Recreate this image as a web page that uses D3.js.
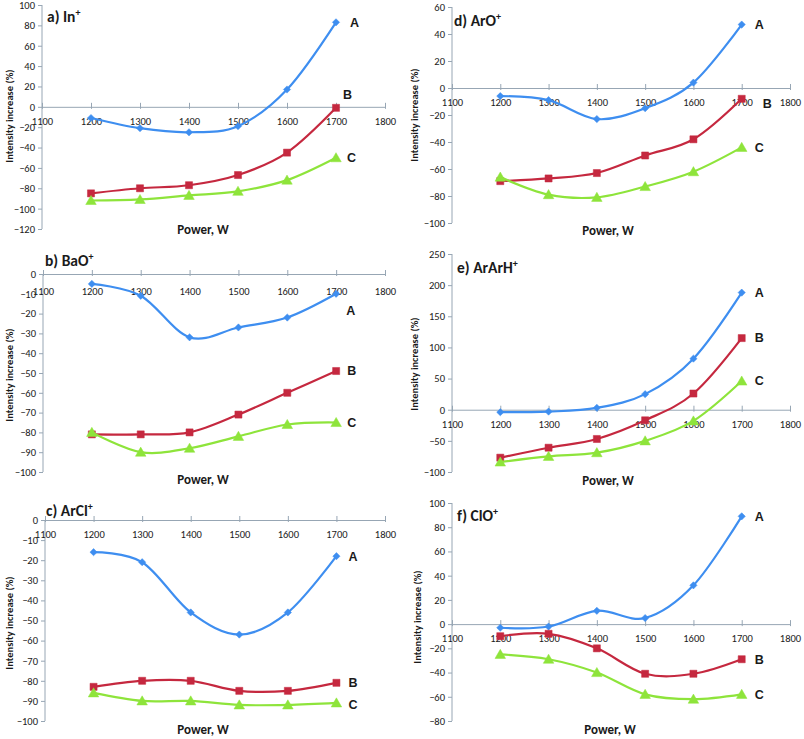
<!DOCTYPE html>
<html>
<head>
<meta charset="utf-8">
<script src="https://cdn.jsdelivr.net/npm/d3@7"></script>
<style>
  html, body { margin: 0; padding: 0; background: #fff; }
  svg { display: block; }
  text { font-family: Carlito, Lato, "Open Sans", sans-serif; fill: #1a1a1a; }
</style>
</head>
<body>
<svg id="chart" width="804" height="739"></svg>
<script>
// ---------- data ----------
const powers = [1200, 1300, 1400, 1500, 1600, 1700];
const xTicks = [1100, 1200, 1300, 1400, 1500, 1600, 1700, 1800];
const seriesNames = ["A", "B", "C"];

// a) In+
const inA = [-11, -21, -25, -19, 17, 83];
const inB = [-85, -80, -77, -67, -45, -1];
const inC = [-92, -91, -87, -83, -72, -50];
const inTicks = [-120, -100, -80, -60, -40, -20, 0, 20, 40, 60, 80, 100];

// b) BaO+
const baoA = [-5, -11, -32, -27, -22, -10];
const baoB = [-81, -81, -80, -71, -60, -49];
const baoC = [-80, -90, -88, -82, -76, -75];
const baoTicks = [-100, -90, -80, -70, -60, -50, -40, -30, -20, -10, 0];

// c) ArCl+
const arclA = [-16, -21, -46, -57, -46, -18];
const arclB = [-83, -80, -80, -85, -85, -81];
const arclC = [-86, -90, -90, -92, -92, -91];
const arclTicks = [-100, -90, -80, -70, -60, -50, -40, -30, -20, -10, 0];

// d) ArO+
const aroA = [-6, -9, -23, -15, 4, 47];
const aroB = [-69, -67, -63, -50, -38, -8];
const aroC = [-66, -79, -81, -73, -62, -44];
const aroTicks = [-100, -80, -60, -40, -20, 0, 20, 40, 60];

// e) ArArH+
const ararhA = [-4, -3, 3, 25, 82, 188];
const ararhB = [-77, -61, -47, -17, 26, 115];
const ararhC = [-84, -75, -69, -50, -18, 46];
const ararhTicks = [-100, -50, 0, 50, 100, 150, 200, 250];

// f) ClO+
const cloA = [-3, -2, 11, 5, 32, 89];
const cloB = [-10, -8, -20, -41, -41, -29];
const cloC = [-25, -29, -40, -58, -62, -58];
const cloTicks = [-80, -60, -40, -20, 0, 20, 40, 60, 80, 100];

// ---------- layout ----------
const colors = { A: "#3e8ef0", B: "#c5283f", C: "#8ee43b" };

const panels = [
  { title: "a) In", sup: "+", series: [inA, inB, inC], ticks: inTicks,
    xr: [42, 385], yr: [229, 5], tickLabelDy: 15,
    titlePos: [47, 22], yTitle: [9, 116], xTitle: [203, 234],
    labelOff: [[14, 0], [7, -13], [11, 0]] },
  { title: "d) ArO", sup: "+", series: [aroA, aroB, aroC], ticks: aroTicks,
    xr: [452, 790], yr: [223, 7], tickLabelDy: 15,
    titlePos: [454, 26], yTitle: [414, 115], xTitle: [608, 235],
    labelOff: [[13, 0], [21, 5], [13, 0]] },
  { title: "b) BaO", sup: "+", series: [baoA, baoB, baoC], ticks: baoTicks,
    xr: [43, 385], yr: [472, 274], tickLabelDy: 17.5,
    titlePos: [45, 266], yTitle: [9, 375], xTitle: [203, 484],
    labelOff: [[10, 17], [11, 0], [11, 0]] },
  { title: "e) ArArH", sup: "+", series: [ararhA, ararhB, ararhC], ticks: ararhTicks,
    xr: [452, 790], yr: [472, 254], tickLabelDy: 14.5,
    titlePos: [457, 273], yTitle: [414, 364], xTitle: [608, 485],
    labelOff: [[13, 0], [13, 0], [13, 0]] },
  { title: "c) ArCl", sup: "+", series: [arclA, arclB, arclC], ticks: arclTicks,
    xr: [45, 385], yr: [721, 520], tickLabelDy: 14.5,
    titlePos: [46, 516], yTitle: [9, 623], xTitle: [203, 734],
    labelOff: [[12, 0], [12, 0], [12, 2]] },
  { title: "f) ClO", sup: "+", series: [cloA, cloB, cloC], ticks: cloTicks,
    xr: [452, 790], yr: [721, 503], tickLabelDy: 14.5,
    titlePos: [457, 521], yTitle: [417, 617], xTitle: [610, 734],
    labelOff: [[13, 0], [13, 0], [13, 0]] }
];

const svg = d3.select("#chart");
const axisColor = "#97a6b4";

const markerPaths = {
  A: d3.symbol().type(d3.symbolSquare).size(26)(),
  B: d3.symbol().type(d3.symbolSquare).size(50)(),
  C: d3.symbol().type(d3.symbolTriangle).size(48)()
};
const markerRot = { A: 45, B: 0, C: 0 };

panels.forEach(p => {
  const g = svg.append("g");
  const ticks = p.ticks;
  const x = d3.scaleLinear().domain([1100, 1800]).range(p.xr);
  const y = d3.scaleLinear().domain([d3.min(ticks), d3.max(ticks)]).range(p.yr);
  const y0 = y(0);

  // y axis
  const yAxis = d3.axisLeft(y).tickValues(ticks).tickSize(4).tickPadding(3).tickFormat(d3.format("d"));
  const ya = g.append("g").attr("transform", `translate(${p.xr[0]},0)`).call(yAxis);
  ya.select(".domain").attr("stroke", axisColor).attr("d", `M-0,${p.yr[0]}V${p.yr[1]}`);
  ya.selectAll(".tick line").attr("stroke", axisColor);
  ya.selectAll(".tick text").attr("font-size", 10.5).attr("fill", "#1a1a1a")
    .style("font-family", "Carlito, Lato, sans-serif");

  // x axis at y = 0
  const xAxis = d3.axisBottom(x).tickValues(xTicks).tickSizeInner(0).tickSizeOuter(0).tickFormat(d3.format("d"));
  const xa = g.append("g").attr("transform", `translate(0,${y0})`).call(xAxis);
  xa.select(".domain").attr("stroke", axisColor);
  xa.selectAll(".tick line").attr("stroke", axisColor).attr("y1", -4).attr("y2", 2);
  xa.selectAll(".tick text").attr("font-size", 10.5).attr("fill", "#1a1a1a")
    .attr("y", p.tickLabelDy).attr("dy", "0.32em")
    .style("font-family", "Carlito, Lato, sans-serif");

  // series
  const line = d3.line()
    .x((d, i) => x(powers[i]))
    .y(d => y(d))
    .curve(d3.curveCardinal.tension(0));

  p.series.forEach((vals, si) => {
    const name = seriesNames[si];
    const col = colors[name];
    g.append("path").datum(vals)
      .attr("d", line)
      .attr("fill", "none")
      .attr("stroke", col)
      .attr("stroke-width", 2.2);
    g.selectAll(null).data(vals).enter().append("path")
      .attr("d", markerPaths[name])
      .attr("transform", (d, i) => `translate(${x(powers[i])},${y(d) + (name === "C" ? 1 : 0)}) rotate(${markerRot[name]})`)
      .attr("fill", col)
      .attr("stroke", col)
      .attr("stroke-width", 0.5);
    const lastI = vals.length - 1;
    g.append("text")
      .attr("x", x(powers[lastI]) + p.labelOff[si][0])
      .attr("y", y(vals[lastI]) + p.labelOff[si][1])
      .attr("dy", "0.35em")
      .attr("font-size", 12.5)
      .attr("font-weight", "bold")
      .style("font-family", "Liberation Sans, Arial, sans-serif")
      .text(name);
  });

  // panel title
  const t = g.append("text")
    .attr("x", p.titlePos[0]).attr("y", p.titlePos[1])
    .attr("font-size", 15.5).attr("font-weight", "bold");
  t.append("tspan").text(p.title);
  t.append("tspan").attr("font-size", 10).attr("dy", -6).text(p.sup);

  // axis titles
  g.append("text")
    .attr("transform", `translate(${p.yTitle[0]},${p.yTitle[1]}) rotate(-90)`)
    .attr("text-anchor", "middle").attr("dy", "0.35em")
    .attr("font-size", 10.5).attr("font-weight", "bold")
    .text("Intensity increase (%)");
  g.append("text")
    .attr("x", p.xTitle[0]).attr("y", p.xTitle[1])
    .attr("text-anchor", "middle")
    .attr("font-size", 13).attr("font-weight", "bold")
    .text("Power, W");
});
</script>
</body>
</html>
